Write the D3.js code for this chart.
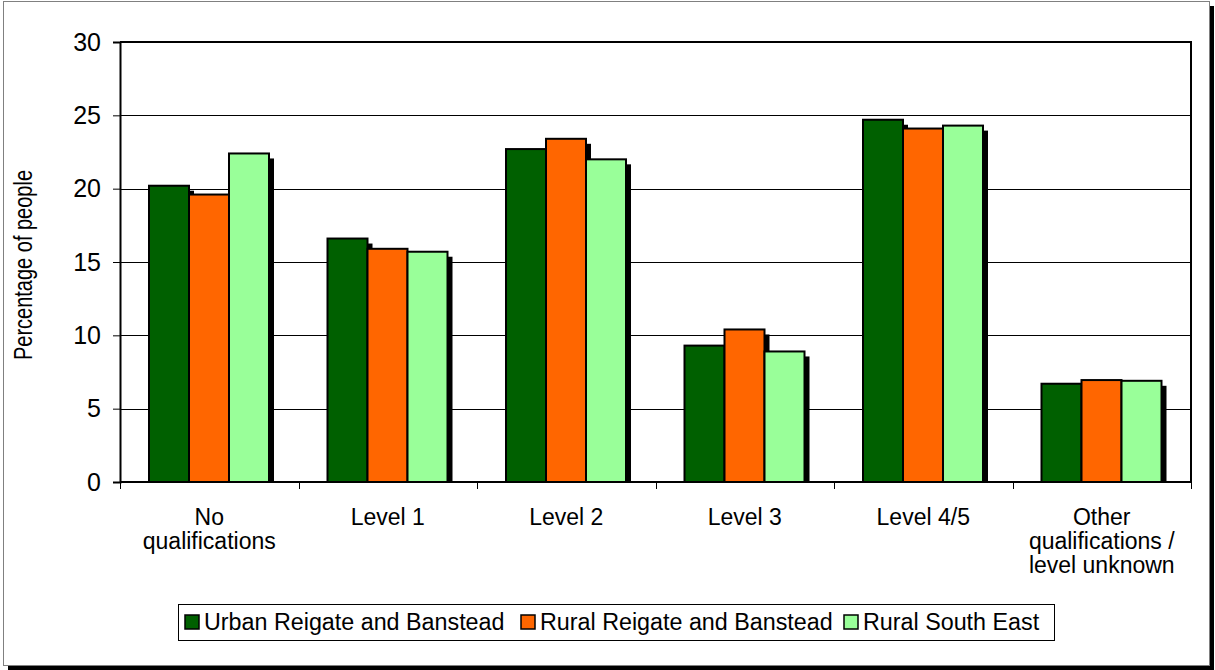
<!DOCTYPE html>
<html>
<head>
<meta charset="utf-8">
<script src="https://cdnjs.cloudflare.com/ajax/libs/d3/7.8.5/d3.min.js"></script>
<style>
  body { margin: 0; background: #fff; }
  svg { font-family: "Liberation Sans", Arial, sans-serif; }
</style>
</head>
<body>
<div id="chart"></div>
<script>
'use strict';

var categories = ['No qualifications', 'Level 1', 'Level 2', 'Level 3', 'Level 4/5', 'Other qualifications / level unknown'];
var categoryLines = [['No', 'qualifications'], ['Level 1'], ['Level 2'], ['Level 3'], ['Level 4/5'], ['Other', 'qualifications /', 'level unknown']];
var seriesNames = ['Urban Reigate and Banstead', 'Rural Reigate and Banstead', 'Rural South East'];
var urbanRB = [20.2, 16.6, 22.7, 9.3, 24.7, 6.7];
var ruralRB = [19.6, 15.9, 23.4, 10.4, 24.1, 6.95];
var ruralSE = [22.4, 15.7, 22.0, 8.9, 24.3, 6.9];
var yTicks = [0, 5, 10, 15, 20, 25, 30];
var colors = ['#006000', '#ff6600', '#99ff99'];

var series = [urbanRB, ruralRB, ruralSE];

var width = 1215, height = 670;
var plot = {left: 120, right: 1191, top: 42, bottom: 482};

var svg = d3.select('#chart').append('svg')
    .attr('width', width)
    .attr('height', height);

// outer frame with shadow
svg.append('rect')
    .attr('x', 8).attr('y', 6)
    .attr('width', 1206).attr('height', 664)
    .attr('fill', '#000');
svg.append('rect')
    .attr('x', 3.5).attr('y', 1.5)
    .attr('width', 1206).attr('height', 664)
    .attr('fill', '#fff')
    .attr('stroke', '#808080')
    .attr('stroke-width', 1);

var x0 = d3.scaleBand()
    .domain(categories)
    .range([plot.left, plot.right]);

var x1 = d3.scaleBand()
    .domain(d3.range(series.length))
    .range([29, 29 + 120]);

var y = d3.scaleLinear()
    .domain([0, 30])
    .range([plot.bottom, plot.top]);

// gridlines
svg.append('g')
    .selectAll('line')
    .data(yTicks.filter(function(d){ return d > 0 && d < 30; }))
    .enter()
      .append('line')
      .attr('x1', plot.left)
      .attr('x2', plot.right)
      .attr('y1', function(d){ return Math.round(y(d)) + 0.5; })
      .attr('y2', function(d){ return Math.round(y(d)) + 0.5; })
      .attr('stroke', '#000')
      .attr('stroke-width', 1);

// bars: shadows first, then bars
var groups = svg.append('g')
    .selectAll('g')
    .data(categories)
    .enter()
      .append('g')
      .attr('transform', function(d){ return 'translate(' + x0(d) + ',0)'; });

var barData = function(d, i){
  return series.map(function(s, k){ return {k: k, v: s[i]}; });
};

groups.selectAll('rect.shadow')
    .data(barData)
    .enter()
      .append('rect')
      .attr('class', 'shadow')
      .attr('x', function(d){ return x1(d.k) + 5; })
      .attr('y', function(d){ return y(d.v) + 5; })
      .attr('width', x1.bandwidth())
      .attr('height', function(d){ return y(0) - y(d.v) - 5; })
      .attr('fill', '#000');

groups.selectAll('rect.bar')
    .data(barData)
    .enter()
      .append('rect')
      .attr('class', 'bar')
      .attr('x', function(d){ return x1(d.k); })
      .attr('y', function(d){ return y(d.v); })
      .attr('width', x1.bandwidth())
      .attr('height', function(d){ return y(0) - y(d.v); })
      .attr('fill', function(d){ return colors[d.k]; })
      .attr('stroke', '#000')
      .attr('stroke-width', 2);

// plot border (top and right)
svg.append('path')
    .attr('d', 'M' + plot.left + ',' + plot.top + 'H' + plot.right + 'V' + plot.bottom)
    .attr('fill', 'none')
    .attr('stroke', '#000')
    .attr('stroke-width', 2);

// y axis
var yAxis = svg.append('g')
    .attr('transform', 'translate(' + plot.left + ',0)')
    .call(d3.axisLeft(y).tickValues(yTicks).tickSize(7).tickPadding(12));
yAxis.select('.domain').attr('stroke-width', 2);
yAxis.selectAll('.tick text')
    .attr('font-size', 25)
    .attr('font-family', '"Liberation Sans", Arial, sans-serif')
    .attr('fill', '#000');

// x axis baseline and ticks at category boundaries
svg.append('line')
    .attr('x1', plot.left).attr('x2', plot.right)
    .attr('y1', plot.bottom).attr('y2', plot.bottom)
    .attr('stroke', '#000')
    .attr('stroke-width', 2);

var boundaries = categories.map(function(c){ return x0(c); }).concat([plot.right]);
svg.append('g')
    .selectAll('line')
    .data(boundaries)
    .enter()
      .append('line')
      .attr('x1', function(d){ return Math.round(d) + 0.5; })
      .attr('x2', function(d){ return Math.round(d) + 0.5; })
      .attr('y1', plot.bottom)
      .attr('y2', plot.bottom + 7)
      .attr('stroke', '#000');

// category labels
var labels = svg.append('g')
    .selectAll('text')
    .data(categories)
    .enter()
      .append('text')
      .attr('text-anchor', 'middle')
      .attr('font-size', 23)
      .attr('fill', '#000')
      .attr('transform', function(d){ return 'translate(' + (x0(d) + x0.bandwidth() / 2) + ',525)'; });
labels.selectAll('tspan')
    .data(function(d, i){ return categoryLines[i]; })
    .enter()
      .append('tspan')
      .attr('x', 0)
      .attr('dy', function(d, i){ return i === 0 ? 0 : 24; })
      .text(function(d){ return d; });

// y axis title (glyphs a bit taller than the text is long in the original)
svg.append('text')
    .attr('transform', 'translate(32,265) rotate(-90) scale(1,1.25)')
    .attr('text-anchor', 'middle')
    .attr('font-size', 20)
    .attr('fill', '#000')
    .text('Percentage of people');

// legend
var legend = svg.append('g');
legend.append('rect')
    .attr('x', 178.5).attr('y', 604.5)
    .attr('width', 876).attr('height', 36)
    .attr('fill', '#fff')
    .attr('stroke', '#000');

var legendX = [185, 521, 844];
var items = legend.selectAll('g')
    .data(seriesNames)
    .enter()
      .append('g')
      .attr('transform', function(d, i){ return 'translate(' + legendX[i] + ',615)'; });
items.append('rect')
    .attr('width', 14).attr('height', 14)
    .attr('fill', function(d, i){ return colors[i]; })
    .attr('stroke', '#000')
    .attr('stroke-width', 1.5);
items.append('text')
    .attr('x', 19)
    .attr('y', 15)
    .attr('font-size', 23.3)
    .attr('fill', '#000')
    .text(function(d){ return d; });
</script>
</body>
</html>
